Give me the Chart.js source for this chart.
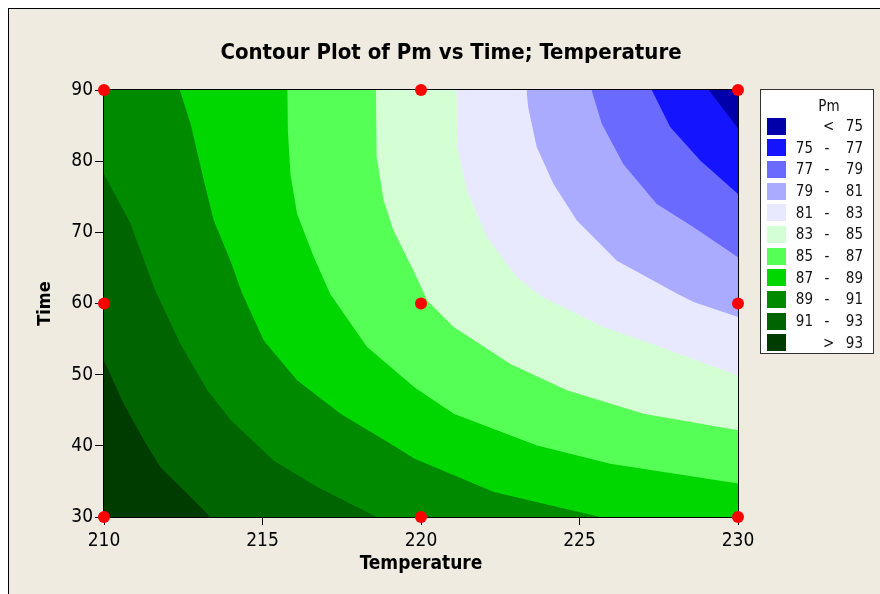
<!DOCTYPE html>
<html>
<head>
<meta charset="utf-8">
<script src="https://cdn.jsdelivr.net/npm/chart.js@4.4.1/dist/chart.umd.min.js"></script>
<style>
html,body{margin:0;padding:0;background:#fff;}
#wrap{position:relative;width:880px;height:594px;overflow:hidden;background:#fff;}
#frame{position:absolute;left:8px;top:8px;width:900px;height:620px;background:#efebe1;border-left:1px solid #000;border-top:1px solid #000;}
#c{position:absolute;left:0;top:0;}
#title{position:absolute;left:0;width:902px;top:38px;height:28px;line-height:28px;text-align:center;font-family:'DejaVu Sans Condensed','DejaVu Sans',sans-serif;font-weight:bold;font-size:22px;color:#000;white-space:nowrap;}
#legend{position:absolute;left:760px;top:89px;width:112px;height:263px;background:#fff;border:1px solid #333;font-family:'DejaVu Sans Condensed','DejaVu Sans',sans-serif;font-size:15px;color:#111;}
#legend .t{position:absolute;left:0;width:136px;top:6px;text-align:center;line-height:20px;}
#legend .sw{position:absolute;left:6px;width:19px;height:17px;}
#legend .lo{position:absolute;right:60px;text-align:right;line-height:20px;}
#legend .da{position:absolute;left:62px;width:8px;text-align:center;line-height:20px;}
#legend .hi{position:absolute;right:10px;text-align:right;line-height:20px;}
</style>
</head>
<body>
<div id="wrap">
  <div id="frame"></div>
  <canvas id="c" width="880" height="594"></canvas>
  <div id="title">Contour Plot of Pm vs Time; Temperature</div>
  <div id="legend"></div>
</div>
<script>
// ---- data ----
const levels = [75, 77, 79, 81, 83, 85, 87, 89, 91, 93];
// band colours: <75, 75-77, ..., 91-93, >93
const bandColors = ['#0000aa','#1414ff','#6a6aff','#aaaaff','#e8e8ff','#d4ffd4','#55ff55','#00d600','#008a00','#006400','#003c00'];
const xTicks = [210, 215, 220, 225, 230];
const yTicks = [30, 40, 50, 60, 70, 80, 90];
// contour lines (Temperature, Time)
const c93 = [[210,52.0],[210.62,45.9],[211.26,40.8],[211.78,37.0],[212.62,33.3],[213.36,30]];
const c91 = [[210,78.2],[210.84,71.2],[211.6,62.0],[212.41,54.3],[213.26,47.8],[214.0,43.6],[215.36,37.9],[216.73,34.2],[218.6,30]];
const c89 = [[212.39,90],[212.73,85.3],[213.15,77.3],[213.46,71.7],[213.99,66.0],[214.35,61.5],[215.04,54.8],[216.09,49.2],[217.46,44.5],[219.04,40.3],[219.8,38.2],[222.3,33.5],[223.87,31.85],[225.66,30]];
const c87 = [[215.78,90],[215.8,84.3],[215.88,78.2],[216.09,72.6],[216.62,66.5],[217.14,61.3],[218.3,53.9],[219.8,48.2],[221.03,44.5],[223.66,40.05],[225.97,37.5],[230,34.7]];
const c85 = [[218.58,90],[218.6,80.6],[218.82,74.5],[219.13,70.3],[219.8,64.3],[220.2,60.4],[221.03,56.7],[222.82,51.5],[224.6,47.8],[227.02,44.5],[230,42.2]];
const c83 = [[221.12,90],[221.14,82.0],[221.45,75.9],[222.08,69.3],[223.03,63.7],[223.8,61.0],[225.76,56.7],[227.55,53.9],[230,49.9]];
const c81 = [[223.33,90],[223.38,87.6],[223.65,82.0],[224.18,76.8],[224.91,71.7],[226.18,66.0],[228.07,61.4],[228.6,60.2],[230,58.1]];
const c79 = [[225.38,90],[225.7,85.3],[226.38,79.6],[227.43,74.0],[228.6,70.7],[230,66.5]];
const c77 = [[227.28,90],[227.86,84.8],[228.81,80.1],[230,75.4]];
const c75 = [[229.08,90],[230,84.6]];
const contourLines = [c75, c77, c79, c81, c83, c85, c87, c89, c91, c93];
// design points
const designTemp = [210, 210, 210, 220, 220, 220, 230, 230, 230];
const designTime = [30, 60, 90, 30, 60, 90, 30, 60, 90];

const xMin = 210, xMax = 230, yMin = 30, yMax = 90;
const F = "'DejaVu Sans Condensed','DejaVu Sans',sans-serif";

// ---- legend (HTML) ----
const lg = document.getElementById('legend');
let html = '<div class="t">Pm</div>';
const nBands = levels.length + 1;
for (let i = 0; i < nBands; i++) {
  const cy = 36 + i * 21.67;
  html += '<div class="sw" style="top:' + (cy - 8.5).toFixed(1) + 'px;background:' + bandColors[i] + '"></div>';
  const ty = (cy - 10).toFixed(1);
  if (i === 0) {
    html += '<div class="da" style="top:' + ty + 'px">&lt;</div><div class="hi" style="top:' + ty + 'px">' + levels[0] + '</div>';
  } else if (i === nBands - 1) {
    html += '<div class="da" style="top:' + ty + 'px">&gt;</div><div class="hi" style="top:' + ty + 'px">' + levels[levels.length - 1] + '</div>';
  } else {
    html += '<div class="lo" style="top:' + ty + 'px">' + levels[i - 1] + '</div><div class="da" style="top:' + ty + 'px">-</div><div class="hi" style="top:' + ty + 'px">' + levels[i] + '</div>';
  }
}
lg.innerHTML = html;

// ---- datasets ----
function toPts(arr) {
  const pts = arr.map(p => ({x: p[0], y: p[1]}));
  const last = arr[arr.length - 1];
  if (last[1] === yMin && last[0] < xMax) pts.push({x: xMax, y: yMin});
  return pts;
}
const datasets = [];
datasets.push({
  data: designTemp.map((t, i) => ({x: t, y: designTime[i]})),
  showLine: false, pointRadius: 6, pointHoverRadius: 6,
  pointBackgroundColor: '#ff0000', pointBorderWidth: 0, pointBorderColor: '#ff0000',
  clip: false, order: 0
});
contourLines.forEach((arr, k) => {
  datasets.push({
    data: toPts(arr), fill: 'end', backgroundColor: bandColors[k],
    borderColor: 'rgba(0,0,0,0)', borderWidth: 0, pointRadius: 0, tension: 0,
    order: k + 1
  });
});
// region above the highest level (>93) as base layer
datasets.push({
  data: [{x: xMin, y: yMin}, {x: xMax, y: yMin}], fill: 'end', backgroundColor: bandColors[levels.length],
  borderColor: 'rgba(0,0,0,0)', borderWidth: 0, pointRadius: 0, order: levels.length + 1
});

const hiddenAxis = (pos, axisId) => ({
  type: 'linear', position: pos, display: true,
  min: axisId === 'x' ? xMin : yMin, max: axisId === 'x' ? xMax : yMax,
  ticks: {display: false},
  grid: {drawOnChartArea: false, drawTicks: false},
  border: {display: true, color: '#000', width: 2},
  afterFit: s => { if (pos === 'top') s.height = 0; else s.width = 0; }
});

new Chart(document.getElementById('c'), {
  type: 'line',
  data: {datasets},
  options: {
    responsive: false, animation: false, devicePixelRatio: 1,
    events: [],
    layout: {padding: {left: 0, right: 142, top: 90, bottom: 15}},
    plugins: {legend: {display: false}, tooltip: {enabled: false}, title: {display: false}},
    scales: {
      x: {
        type: 'linear', position: 'bottom', min: xMin, max: xMax,
        afterBuildTicks: s => { s.ticks = xTicks.map(v => ({value: v})); },
        afterFit: s => { s.height = 62; },
        ticks: {color: '#000', font: {family: F, size: 19}, padding: 5, autoSkip: false, maxRotation: 0},
        grid: {drawOnChartArea: false, drawTicks: true, tickLength: 8, color: '#000', lineWidth: 1},
        border: {display: true, color: '#000', width: 2},
        title: {display: true, text: 'Temperature', color: '#000', font: {family: F, size: 19, weight: 'bold'}, padding: {top: 0, bottom: 4}}
      },
      y: {
        type: 'linear', position: 'left', min: yMin, max: yMax,
        afterBuildTicks: s => { s.ticks = yTicks.map(v => ({value: v})); },
        afterFit: s => { s.width = 104; },
        ticks: {color: '#000', font: {family: F, size: 19}, padding: 2, autoSkip: false},
        grid: {drawOnChartArea: false, drawTicks: true, tickLength: 9, color: '#000', lineWidth: 1},
        border: {display: true, color: '#000', width: 2},
        title: {display: true, text: 'Time', color: '#000', font: {family: F, size: 18, weight: 'bold'}, padding: {top: 35, bottom: 0}}
      },
      x2: hiddenAxis('top', 'x'),
      y2: hiddenAxis('right', 'y')
    }
  }
});
</script>
</body>
</html>
